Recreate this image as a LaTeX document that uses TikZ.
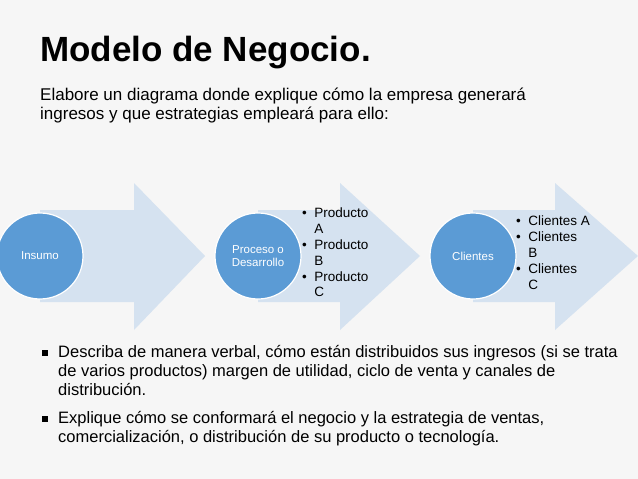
\documentclass[tikz,border=0pt]{standalone}
\usepackage{fontspec}
\setmainfont{Liberation Sans}
\begin{document}
\begin{tikzpicture}[x=1pt,y=-1pt,
  arr/.style={fill=arrowc,draw=none},
  circ/.style={circle,fill=circc,draw=white,line width=1.2pt,minimum size=86pt,text=white,font=\fontsize{11.5}{13}\selectfont,align=center,inner sep=0pt},
  lst/.style={anchor=north west,font=\fontsize{13.5}{15.8}\selectfont,align=left,inner sep=0pt},
  para/.style={anchor=north west,inner sep=0pt,align=left}]
\definecolor{arrowc}{HTML}{D5E2F0}
\definecolor{circc}{HTML}{5B9BD5}
\definecolor{bg}{HTML}{F6F6F6}
\fill[bg] (0,0) rectangle (638,479);
\useasboundingbox (0,0) rectangle (638,479);
\foreach \b/\h/\t/\n in {40/134/205/a1,258/340/420/a2,473/555/638/a3}{
  \fill[arrowc] (\b,210) -- (\h,210) -- (\h,183) -- (\t,256) -- (\h,330) -- (\h,302) -- (\b,302) -- cycle;
}
\node[circ] (c1) at (40,256) {Insumo};
\node[circ] (c2) at (258,256) {Proceso o\\Desarrollo};
\node[circ] (c3) at (473,256) {Clientes};
\node[lst] (l2) at (302,208) {\textbullet\ \ Producto\\\hphantom{\textbullet\ \ }A\\\textbullet\ \ Producto\\\hphantom{\textbullet\ \ }B\\\textbullet\ \ Producto\\\hphantom{\textbullet\ \ }C};
\node[lst] (l3) at (516,216) {\textbullet\ \ Clientes A\\\textbullet\ \ Clientes\\\hphantom{\textbullet\ \ }B\\\textbullet\ \ Clientes\\\hphantom{\textbullet\ \ }C};
\node[para,font=\bfseries\fontsize{35}{38}\selectfont] (title) at (40,36) {Modelo de Negocio.};
\node[para,font=\fontsize{17}{18.5}\selectfont] (sub) at (40,88) {Elabore un diagrama donde explique cómo la empresa generará\\ingresos y que estrategias empleará para ello:};
\node[para,font=\fontsize{16.5}{19}\selectfont] (b1) at (42,345) {\rule[1.5pt]{6pt}{6pt}\hspace{10pt}\parbox[t]{560pt}{\raggedright\baselineskip=19pt Describa de manera verbal, cómo están distribuidos sus ingresos (si se trata de varios productos) margen de utilidad, ciclo de venta y canales de distribución.}};
\node[para,font=\fontsize{16.5}{19}\selectfont] (b2) at (42,411) {\rule[1.5pt]{6pt}{6pt}\hspace{10pt}\parbox[t]{560pt}{\raggedright\baselineskip=19pt Explique cómo se conformará el negocio y la estrategia de ventas, comercialización, o distribución de su producto o tecnología.}};
\end{tikzpicture}
\end{document}
